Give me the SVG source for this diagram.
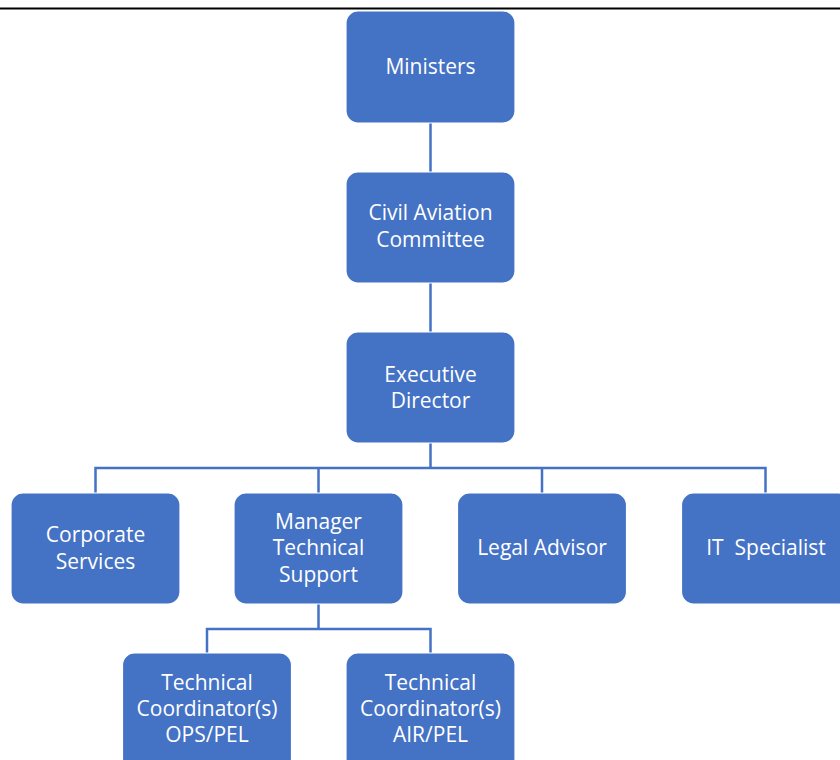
<svg xmlns="http://www.w3.org/2000/svg" width="840" height="760" viewBox="0 0 840 760">
<style>
.box{fill:#4472C4;stroke:#ffffff;stroke-width:1.2}
.lbl{font-family:"Open Sans","Noto Sans","Liberation Sans",sans-serif;font-size:21px;fill:#ffffff;text-anchor:middle;dominant-baseline:central;white-space:pre}
.con{fill:none;stroke:#4472C4;stroke-width:2.5}
</style>
<rect width="840" height="760" fill="#ffffff"/>
<line x1="0" y1="8.5" x2="840" y2="8.5" stroke="#000000" stroke-width="2"/>
<g id="connectors">
<path class="con" d="M430.5 123V172M430.5 283V332M430.5 443V468M95.5 493V468H765.5V493M318.5 468V493M542 468V493"/>
<path class="con" d="M318.5 604V629M207 653V629H430.5V653"/>
</g>
<g id="ministers"><rect class="box" x="346" y="11" width="169" height="112" rx="12"/><text class="lbl" x="430.5" y="66">Ministers</text></g>
<g id="cac"><rect class="box" x="346" y="172" width="169" height="111" rx="12"/><text class="lbl" x="430.5" y="212">Civil Aviation</text><text class="lbl" x="430.5" y="239">Committee</text></g>
<g id="exec"><rect class="box" x="346" y="332" width="169" height="111" rx="12"/><text class="lbl" x="430.5" y="374">Executive</text><text class="lbl" x="430.5" y="400">Director</text></g>
<g id="corporate"><rect class="box" x="11" y="493" width="169" height="111" rx="12"/><text class="lbl" x="95.5" y="534">Corporate</text><text class="lbl" x="95.5" y="561">Services</text></g>
<g id="manager"><rect class="box" x="234" y="493" width="169" height="111" rx="12"/><text class="lbl" x="318.5" y="521">Manager</text><text class="lbl" x="318.5" y="547">Technical</text><text class="lbl" x="318.5" y="574">Support</text></g>
<g id="legal"><rect class="box" x="457.5" y="493" width="169" height="111" rx="12"/><text class="lbl" x="542" y="547">Legal Advisor</text></g>
<g id="it"><rect class="box" x="681.5" y="493" width="169" height="111" rx="12"/><text class="lbl" x="766" y="547">IT  Specialist</text></g>
<g id="tc-ops"><rect class="box" x="122.5" y="653" width="169" height="120" rx="12"/><text class="lbl" x="207" y="682">Technical</text><text class="lbl" x="207" y="708">Coordinator(s)</text><text class="lbl" x="207" y="734">OPS/PEL</text></g>
<g id="tc-air"><rect class="box" x="346" y="653" width="169" height="120" rx="12"/><text class="lbl" x="430.5" y="682">Technical</text><text class="lbl" x="430.5" y="708">Coordinator(s)</text><text class="lbl" x="430.5" y="734">AIR/PEL</text></g>
</svg>
